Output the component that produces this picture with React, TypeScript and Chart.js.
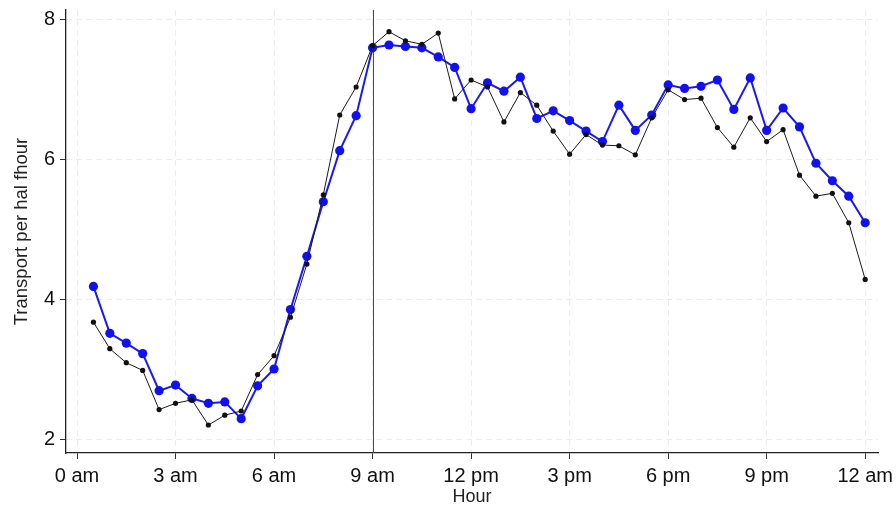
import React, { useEffect, useRef } from "react";
import { Chart, registerables } from "chart.js";

Chart.register(...registerables);

const HOURS = [
  0.5, 1, 1.5, 2, 2.5, 3, 3.5, 4, 4.5, 5, 5.5, 6,
  6.5, 7, 7.5, 8, 8.5, 9, 9.5, 10, 10.5, 11, 11.5, 12,
  12.5, 13, 13.5, 14, 14.5, 15, 15.5, 16, 16.5, 17, 17.5, 18,
  18.5, 19, 19.5, 20, 20.5, 21, 21.5, 22, 22.5, 23, 23.5, 24,
];

const BLUE_SERIES = [
  4.19, 3.52, 3.38, 3.23, 2.7, 2.78, 2.59, 2.52, 2.54, 2.3, 2.77, 3.01,
  3.86, 4.62, 5.4, 6.13, 6.63, 7.6, 7.64, 7.62, 7.6, 7.47, 7.32, 6.73,
  7.1, 6.98, 7.18, 6.59, 6.7, 6.56, 6.41, 6.26, 6.78, 6.42, 6.64, 7.07,
  7.02, 7.05, 7.14, 6.72, 7.17, 6.42, 6.74, 6.47, 5.95, 5.7, 5.48, 5.1,
];

const BLACK_SERIES = [
  3.68, 3.3, 3.1, 2.99, 2.43, 2.52, 2.57, 2.21, 2.35, 2.41, 2.93, 3.2,
  3.75, 4.51, 5.5, 6.64, 7.04, 7.63, 7.83, 7.7, 7.65, 7.81, 6.87, 7.14,
  7.04, 6.54, 6.96, 6.78, 6.41, 6.08, 6.36, 6.21, 6.2, 6.07, 6.6, 7.0,
  6.86, 6.88, 6.46, 6.18, 6.6, 6.26, 6.43, 5.78, 5.48, 5.52, 5.1, 4.29,
];

const X_TICKS = [0, 3, 6, 9, 12, 15, 18, 21, 24];
const X_TICK_LABELS = ["0 am", "3 am", "6 am", "9 am", "12 pm", "3 pm", "6 pm", "9 pm", "12 am"];
const Y_TICKS = [2, 4, 6, 8];
const MARKER_HOUR = 9;

const X_TITLE = "Hour";
const Y_TITLE = "Transport per hal fhour";

const FONT = "'Liberation Sans', Arial, Helvetica, sans-serif";

const markerLinePlugin = {
  id: "markerLine",
  beforeDatasetsDraw(chart: any) {
    const { ctx, chartArea, scales } = chart;
    const x = Math.round(scales.x.getPixelForValue(MARKER_HOUR)) + 0.5;
    ctx.save();
    ctx.strokeStyle = "#4a4a4a";
    ctx.lineWidth = 1;
    ctx.beginPath();
    ctx.moveTo(x, chartArea.top);
    ctx.lineTo(x, chartArea.bottom);
    ctx.stroke();
    ctx.restore();
  },
};

export default function App() {
  const canvasRef = useRef<HTMLCanvasElement | null>(null);

  useEffect(() => {
    const canvas = canvasRef.current;
    if (!canvas) return;
    const toPoints = (ys: number[]) => HOURS.map((h, i) => ({ x: h, y: ys[i] }));

    const gridOpts = {
      color: "#ececec",
      lineWidth: 1,
      drawTicks: true,
      tickLength: 6,
      tickColor: "#333",
      tickWidth: 1,
    };
    const borderOpts = { display: true, color: "#222", width: 1.3, dash: [6, 4] };

    const chart = new Chart(canvas, {
      type: "line",
      data: {
        datasets: [
          {
            label: "black",
            data: toPoints(BLACK_SERIES),
            borderColor: "#1a1a1a",
            backgroundColor: "#111111",
            borderWidth: 1,
            pointRadius: 2.6,
            pointBorderWidth: 0,
            pointHoverRadius: 2.6,
            tension: 0,
          },
          {
            label: "blue",
            data: toPoints(BLUE_SERIES),
            borderColor: "#1a1aee",
            backgroundColor: "#1010f0",
            borderWidth: 2,
            pointRadius: 4.6,
            pointBorderWidth: 0,
            pointHoverRadius: 4.6,
            tension: 0,
          },
        ],
      },
      options: {
        animation: false,
        responsive: false,
        layout: { padding: { left: 0, top: 10, right: 18, bottom: 0 } },
        plugins: {
          legend: { display: false },
          tooltip: { enabled: false },
        },
        events: [],
        scales: {
          x: {
            type: "linear",
            min: -0.335,
            max: 24.39,
            afterBuildTicks: (scale: any) => {
              scale.ticks = X_TICKS.map((v) => ({ value: v }));
            },
            afterFit: (scale: any) => {
              scale.height = 59;
              scale.paddingLeft = 0;
              scale.paddingRight = 0;
            },
            ticks: {
              autoSkip: false,
              maxRotation: 0,
              minRotation: 0,
              padding: 5,
              color: "#111",
              font: { family: FONT, size: 20 },
              callback: (value: any) => {
                const idx = X_TICKS.indexOf(Number(value));
                return idx >= 0 ? X_TICK_LABELS[idx] : "";
              },
            },
            grid: gridOpts,
            border: borderOpts,
            title: {
              display: true,
              text: X_TITLE,
              color: "#222",
              font: { family: FONT, size: 18 },
              padding: { top: 0, bottom: 4 },
            },
          },
          y: {
            type: "linear",
            min: 1.81,
            max: 8.14,
            afterBuildTicks: (scale: any) => {
              scale.ticks = Y_TICKS.map((v) => ({ value: v }));
            },
            afterFit: (scale: any) => {
              scale.width = 66;
              scale.paddingTop = 0;
              scale.paddingBottom = 0;
            },
            ticks: {
              padding: 5,
              color: "#111",
              font: { family: FONT, size: 20 },
              callback: (value: any) => String(value),
            },
            grid: gridOpts,
            border: borderOpts,
            title: {
              display: true,
              text: Y_TITLE,
              color: "#222",
              font: { family: FONT, size: 18.5 },
              padding: { top: 11, bottom: 0 },
            },
          },
        },
      },
      plugins: [markerLinePlugin],
    });

    return () => {
      chart.destroy();
    };
  }, []);

  return (
    <div
      style={{
        position: "fixed",
        left: 0,
        top: 0,
        width: 896,
        height: 512,
        background: "#ffffff",
      }}
    >
      <canvas ref={canvasRef} width={896} height={512} style={{ display: "block" }} />
    </div>
  );
}
